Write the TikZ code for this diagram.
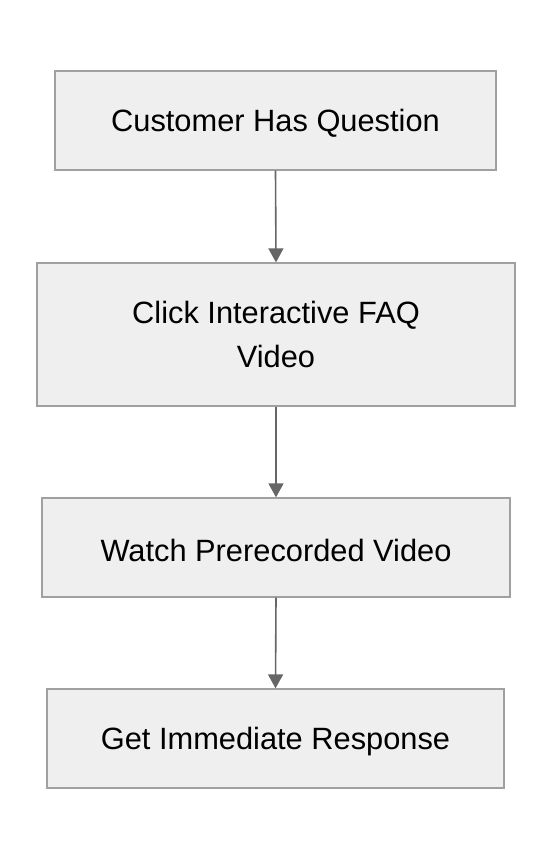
\documentclass[tikz,border=0pt]{standalone}
\usepackage{fontspec}
\setmainfont{Liberation Sans}
\usetikzlibrary{arrows.meta}
\definecolor{boxfill}{HTML}{EFEFEF}
\definecolor{boxline}{HTML}{A0A0A0}
\definecolor{arrowc}{HTML}{666666}
\newcommand{\lowtxt}[1]{\raisebox{-3pt}[\height][\depth]{#1}}
\tikzset{
  stepbox/.style={draw=boxline, fill=boxfill, line width=1.3pt, inner sep=0pt, align=center,
    font=\fontsize{30.8}{44}\selectfont, text=black},
  flow/.style={draw=arrowc, line width=1.6pt, -{Triangle[length=14pt,width=15pt]}}
}
\begin{document}
\begin{tikzpicture}[x=1pt,y=-1pt]
\useasboundingbox (0,0) rectangle (552,860);
\node[stepbox, minimum width=441pt, minimum height=99pt] (a) at (275.5,120.5) {\lowtxt{Customer Has Question}};
\node[stepbox, minimum width=478pt, minimum height=143pt] (b) at (276,334.5) {Click Interactive FAQ\\Video};
\node[stepbox, minimum width=468pt, minimum height=99pt] (c) at (276,547.5) {\lowtxt{Watch Prerecorded Video}};
\node[stepbox, minimum width=457pt, minimum height=99pt] (d) at (275.5,738.5) {\lowtxt{Get Immediate Response}};
\draw[flow] (a.south) -- (b.north);
\draw[flow] (b.south) -- (c.north);
\draw[flow] (c.south) -- (d.north);
\end{tikzpicture}
\end{document}
